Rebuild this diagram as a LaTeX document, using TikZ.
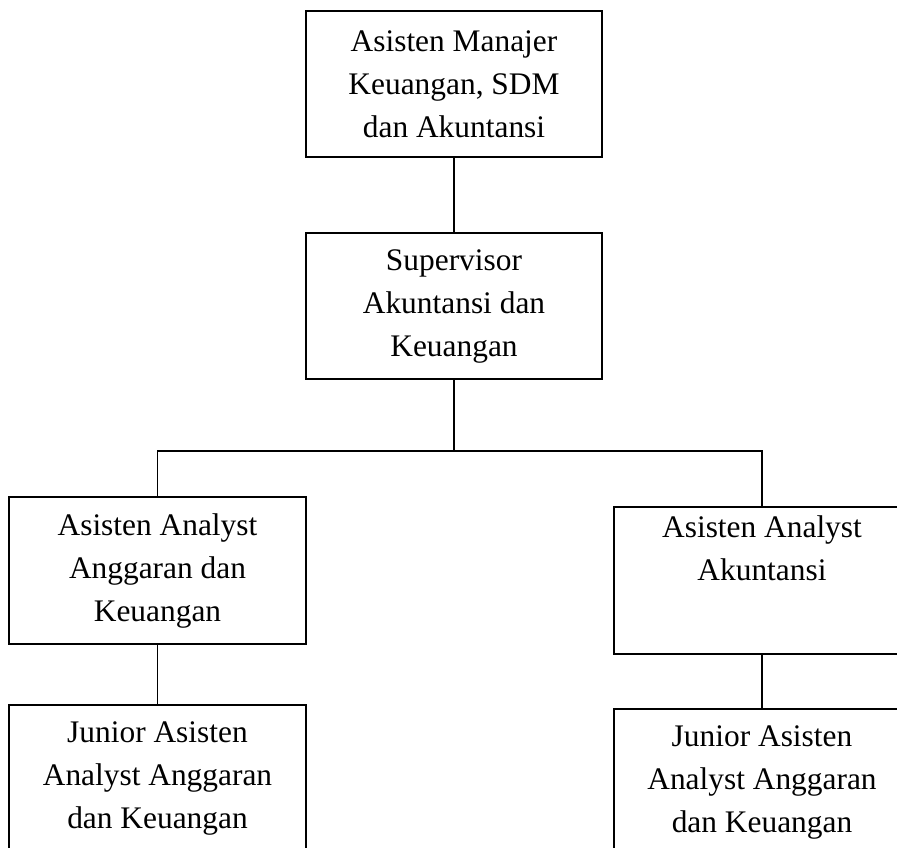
\documentclass[tikz,border=0pt]{standalone}
\usepackage{fontspec}
\setmainfont{Liberation Serif}
\begin{document}
\begin{tikzpicture}[x=1pt,y=-1pt,
  orgbox/.style={draw=black, line width=1.3pt, rectangle, minimum width=296pt,
    minimum height=146pt, align=center, inner sep=0pt,
    font=\fontsize{31.4}{43}\selectfont},
  link/.style={draw=black, line width=1.3pt}]
\useasboundingbox (0,0) rectangle (897,847);
\clip (0,0) rectangle (897,847);
\fill[white] (0,0) rectangle (897,847);
\node[orgbox] (b1) at (454,84) {Asisten Manajer\\Keuangan, SDM\\dan Akuntansi};
\node[orgbox] (b2) at (454,306) {Supervisor\\Akuntansi dan\\Keuangan};
\node[orgbox, minimum width=297pt, minimum height=147pt] (b3) at (157.5,570.5) {Asisten Analyst\\Anggaran dan\\Keuangan};
\node[orgbox, minimum width=297pt, minimum height=147pt] (b4) at (157.5,778.5) {Junior Asisten\\Analyst Anggaran\\dan Keuangan};
\node[orgbox, minimum height=147pt] (b5) at (762,580.5) {Asisten Analyst\\Akuntansi\\[22pt]~};
\node[orgbox, minimum height=147pt] (b6) at (762,782.5) {Junior Asisten\\Analyst Anggaran\\dan Keuangan};
\coordinate (j) at (454,451);
\draw[link] (b1.south) -- (b2.north);
\draw[link] (b2.south) -- (j);
\draw[link] (b3.north) |- (j) -| (b5.north);
\draw[link] (b3.south) -- (b4.north);
\draw[link] (b5.south) -- (b6.north);
\end{tikzpicture}
\end{document}
